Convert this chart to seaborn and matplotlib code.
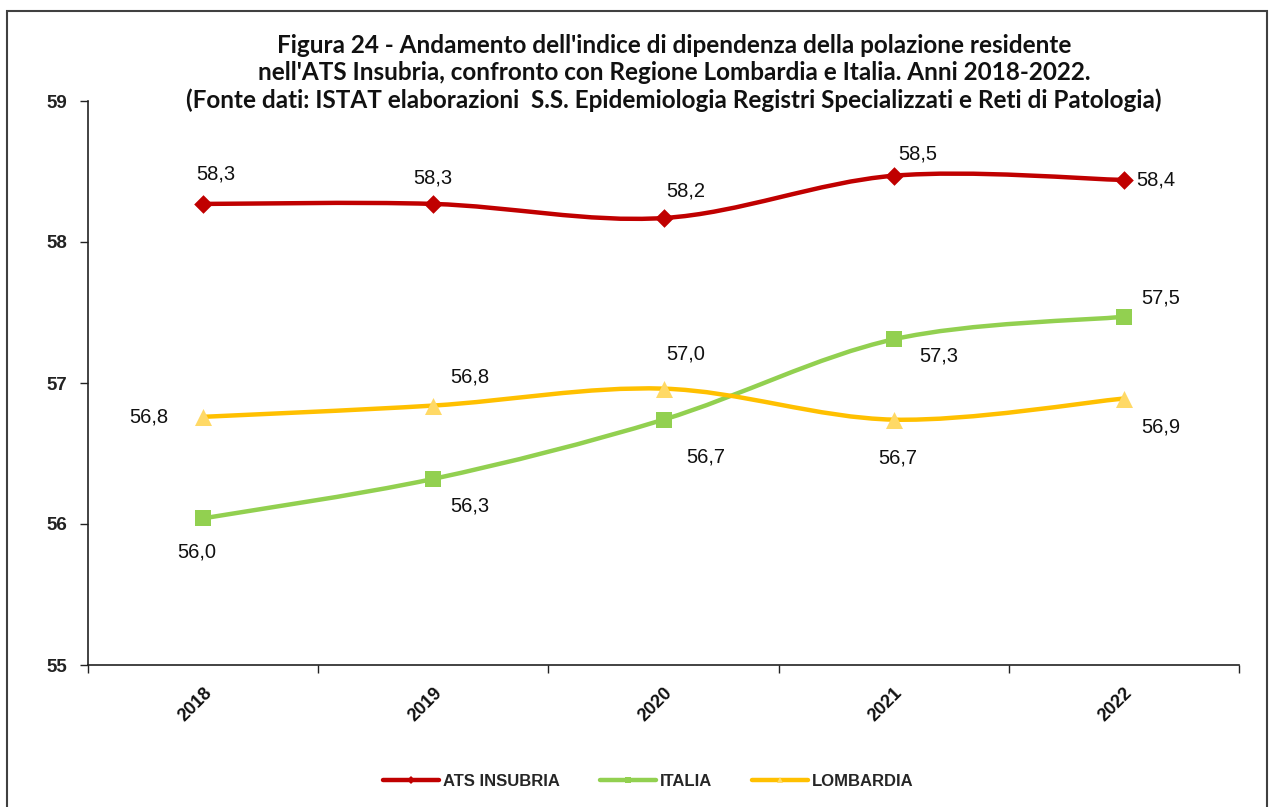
import numpy as np
import pandas as pd
import matplotlib
matplotlib.use("Agg")
import matplotlib.pyplot as plt
from matplotlib.path import Path
from matplotlib.patches import PathPatch, Rectangle
from matplotlib.lines import Line2D
import seaborn as sns

# data
years = ["2018", "2019", "2020", "2021", "2022"]
ats_insubria = [58.27, 58.27, 58.17, 58.47, 58.44]
italia = [56.04, 56.32, 56.74, 57.31, 57.47]
lombardia = [56.76, 56.84, 56.96, 56.74, 56.89]
series_names = ["ATS INSUBRIA", "ITALIA", "LOMBARDIA"]

title = ("Figura 24 - Andamento dell'indice di dipendenza della polazione residente\n"
         "nell'ATS Insubria, confronto con Regione Lombardia e Italia. Anni 2018-2022.\n"
         "(Fonte dati: ISTAT elaborazioni  S.S. Epidemiologia Registri Specializzati e Reti di Patologia)")

# styling
line_colors = {"ATS INSUBRIA": "#C00000", "ITALIA": "#92D050", "LOMBARDIA": "#FFC000"}
marker_colors = {"ATS INSUBRIA": "#C00000", "ITALIA": "#92D050", "LOMBARDIA": "#FFD966"}
marker_shapes = {"ATS INSUBRIA": "D", "ITALIA": "s", "LOMBARDIA": "^"}
marker_sizes = {"ATS INSUBRIA": 90, "ITALIA": 130, "LOMBARDIA": 150}
# label offsets in pixels (dx, dy) from each marker
label_offsets = {
    "ATS INSUBRIA": [(13, 30), (0, 26), (22, 27), (24, 22), (32, 0)],
    "ITALIA": [(-6, -34), (37, -27), (42, -37), (45, -17), (37, 19)],
    "LOMBARDIA": [(-54, 0), (37, 29), (22, 35), (4, -38), (37, -28)],
}

df = pd.DataFrame({
    "year": years * 3,
    "pos": list(range(len(years))) * 3,
    "value": ats_insubria + italia + lombardia,
    "series": [s for s in series_names for _ in years],
})

sns.set_theme(style="white")
narrow = ["Liberation Sans Narrow", "Liberation Sans", "DejaVu Sans"]
plt.rcParams["font.family"] = ["Liberation Sans", "DejaVu Sans"]

fig = plt.figure(figsize=(12.71, 8.07), dpi=100)
ax = fig.add_axes([88 / 1271, 1 - 665 / 807, (1239 - 88) / 1271, (665 - 101) / 807])


def smooth_path(xs, ys):
    # Excel-like smoothed line: Catmull-Rom segments as cubic Bezier curves
    pts = np.column_stack([xs, ys]).astype(float)
    verts = [pts[0]]
    codes = [Path.MOVETO]
    n = len(pts)
    for i in range(n - 1):
        p0 = pts[i - 1] if i > 0 else pts[i]
        p1 = pts[i]
        p2 = pts[i + 1]
        p3 = pts[i + 2] if i + 2 < n else pts[i + 1]
        c1 = p1 + (p2 - p0) / 6.0
        c2 = p2 - (p3 - p1) / 6.0
        verts += [c1, c2, p2]
        codes += [Path.CURVE4] * 3
    return Path(verts, codes)


for name in series_names:
    sub = df[df["series"] == name]
    patch = PathPatch(smooth_path(sub["pos"], sub["value"]), facecolor="none",
                      edgecolor=line_colors[name], lw=3.2, zorder=2, capstyle="round")
    ax.add_patch(patch)

for name in series_names:
    sub = df[df["series"] == name]
    sns.scatterplot(data=sub, x="pos", y="value", marker=marker_shapes[name],
                    s=marker_sizes[name], color=marker_colors[name], linewidth=0,
                    ax=ax, zorder=3, legend=False)
    for (x, y), (dx, dy) in zip(zip(sub["pos"], sub["value"]), label_offsets[name]):
        ax.annotate(f"{y:.1f}".replace(".", ","), (x, y), xytext=(dx, dy),
                    textcoords="offset pixels", ha="center", va="center",
                    fontsize=14.5, family=narrow, color="#111111")

ax.set_xlim(-0.5, len(years) - 0.5)
ax.set_ylim(55, 59)
ax.set_yticks([55, 56, 57, 58, 59])
ax.set_yticklabels(["55", "56", "57", "58", "59"], fontsize=13.5, fontweight="bold", color="#222222")
ax.set_xticks(range(len(years)))
ax.set_xticklabels(years, rotation=45, ha="right", rotation_mode="anchor",
                   fontsize=13, fontweight="bold", color="#111111")
ax.set_xticks(np.arange(-0.5, len(years), 1.0), minor=True)
ax.tick_params(axis="x", which="major", length=0, pad=14)
ax.tick_params(axis="x", which="minor", length=6, width=1, color="#222222", direction="out", bottom=True)
ax.tick_params(axis="y", length=6, width=1, color="#222222", direction="out", left=True, pad=9)
ax.set_xlabel("")
ax.set_ylabel("")
sns.despine(ax=ax)
for sp in ["left", "bottom"]:
    ax.spines[sp].set_color("#222222")
    ax.spines[sp].set_linewidth(1.2)

fig.text(674 / 1271, 1 - 73 / 807, title, ha="center", va="center", fontsize=17.5,
         fontweight="bold", family=["Lato", "DejaVu Sans"], color="#111111", linespacing=1.22)

handles = [Line2D([0], [0], color=line_colors[n], lw=3.2, marker=marker_shapes[n],
                  markersize=4, markerfacecolor=marker_colors[n], markeredgewidth=0)
           for n in series_names]
fig.legend(handles, series_names, loc="center", bbox_to_anchor=(648 / 1271, 1 - 781 / 807),
           ncol=3, frameon=False, handlelength=3.4, handletextpad=0.2, columnspacing=2.4,
           prop={"weight": "bold", "size": 12, "family": narrow})

fig.patches.append(Rectangle((7 / 1271, -0.1), (1267 - 7) / 1271, 0.1 + (807 - 11) / 807,
                             transform=fig.transFigure, fill=False, lw=1.5,
                             edgecolor="#404040", zorder=0))

fig.savefig("out.png", dpi=100)
